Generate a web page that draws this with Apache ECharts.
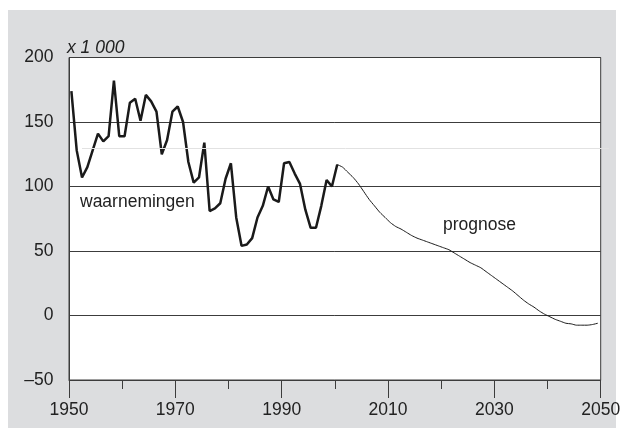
<!DOCTYPE html>
<html>
<head>
<meta charset="utf-8">
<script src="https://cdn.jsdelivr.net/npm/echarts@6/dist/echarts.min.js"></script>
<style>
  html, body { margin: 0; padding: 0; background: #fff; }
  #chart { width: 624px; height: 435px; }
</style>
</head>
<body>
<div id="chart"></div>
<script>
// waarnemingen 1950-2000 (x 1 000)
const obsYears = [1950, 1951, 1952, 1953, 1954, 1955, 1956, 1957, 1958, 1959,
  1960, 1961, 1962, 1963, 1964, 1965, 1966, 1967, 1968, 1969,
  1970, 1971, 1972, 1973, 1974, 1975, 1976, 1977, 1978, 1979,
  1980, 1981, 1982, 1983, 1984, 1985, 1986, 1987, 1988, 1989,
  1990, 1991, 1992, 1993, 1994, 1995, 1996, 1997, 1998, 1999, 2000]
const obsValues = [174, 128, 107, 115, 128, 141, 135, 139, 182, 139,
  139, 165, 168, 151, 171, 166, 158, 125, 136, 158,
  162, 150, 119, 103, 107, 134, 81, 83, 87, 106,
  118, 76, 54, 55, 60, 76, 85, 100, 90, 88,
  118, 119, 110, 102, 82, 68, 68, 85, 105, 100, 117]

// prognose 2000-2049
const progYears = [2000, 2001, 2002, 2003, 2004, 2005, 2006, 2007, 2008, 2009,
  2010, 2011, 2012, 2013, 2014, 2015, 2016, 2017, 2018, 2019,
  2020, 2021, 2022, 2023, 2024, 2025, 2026, 2027, 2028, 2029,
  2030, 2031, 2032, 2033, 2034, 2035, 2036, 2037, 2038, 2039,
  2040, 2041, 2042, 2043, 2044, 2045, 2046, 2047, 2048, 2049]
const progValues = [117, 115, 111, 107, 102, 96, 90, 85, 80, 76,
  72, 69, 67, 64.5, 62, 60, 58.5, 57, 55.5, 54,
  52.5, 51, 48.5, 46, 43.5, 41, 39, 37, 34, 31,
  28, 25, 22, 19, 15.5, 12, 9, 6.5, 3.5, 1,
  -1, -3, -4.5, -6, -6.5, -7.5, -7.5, -7.5, -7, -6]

const startYear = 1950
const yTicks = [-50, 0, 50, 100, 150, 200]

// values sit mid-year
const toPoints = (years, vals) => years.map((y, i) => [y - startYear + 0.45, vals[i]])

const font = '"Liberation Sans", Arial, Helvetica, sans-serif'
const ink = '#222'
const lineCol = '#3c3c3c'

const chart = echarts.init(document.getElementById('chart'))

chart.setOption({
  backgroundColor: '#fff',
  animation: false,
  textStyle: { fontFamily: font },
  graphic: [
    {
      type: 'rect', z: -10, silent: true,
      shape: { x: 8, y: 10, width: 608, height: 418 },
      style: { fill: '#dcdddf' }
    },
    {
      type: 'line', z: 5, silent: true,
      shape: { x1: 82, y1: 148.5, x2: 609, y2: 148.5 },
      style: { stroke: '#e2e2e2', lineWidth: 1 }
    },
    {
      type: 'text', z: 10, left: 67, top: 39,
      style: { text: 'x 1 000', font: 'italic 17.5px ' + font, fill: ink }
    },
    {
      type: 'text', z: 10, left: 80, top: 193,
      style: { text: 'waarnemingen', font: '17.5px ' + font, fill: ink }
    },
    {
      type: 'text', z: 10, left: 443, top: 216,
      style: { text: 'prognose', font: '17.5px ' + font, fill: ink }
    }
  ],
  grid: {
    left: 69, right: 23.3, top: 57.5, bottom: 55,
    show: true, backgroundColor: '#fff', borderColor: lineCol, borderWidth: 1
  },
  xAxis: {
    type: 'value',
    min: 0, max: 100, interval: 20,
    axisLine: { show: true, onZero: false, lineStyle: { color: lineCol, width: 1 } },
    axisTick: { show: true, length: 18, lineStyle: { color: lineCol } },
    minorTick: { show: true, splitNumber: 2, length: 9, lineStyle: { color: lineCol } },
    splitLine: { show: false },
    axisLabel: {
      margin: 21, color: ink, fontSize: 17.5, fontFamily: font,
      formatter: v => String(v + startYear)
    }
  },
  yAxis: {
    type: 'value',
    min: yTicks[0], max: yTicks[yTicks.length - 1], interval: 50,
    axisLine: { show: true, lineStyle: { color: lineCol } },
    axisTick: { show: false },
    splitLine: { show: true, lineStyle: { color: lineCol, width: 1 } },
    axisLabel: {
      margin: 15.5, color: ink, fontSize: 17.5, fontFamily: font,
      formatter: v => v < 0 ? '\u2013' + Math.abs(v) : String(v)
    }
  },
  series: [
    {
      name: 'waarnemingen',
      type: 'line',
      data: toPoints(obsYears, obsValues),
      showSymbol: false,
      lineStyle: { color: '#1a1a1a', width: 2.5 },
      z: 3
    },
    {
      name: 'prognose',
      type: 'line',
      data: toPoints(progYears, progValues),
      showSymbol: false,
      smooth: 0.2,
      lineStyle: { color: '#1a1a1a', width: 1 },
      z: 3
    }
  ]
})
</script>
</body>
</html>
